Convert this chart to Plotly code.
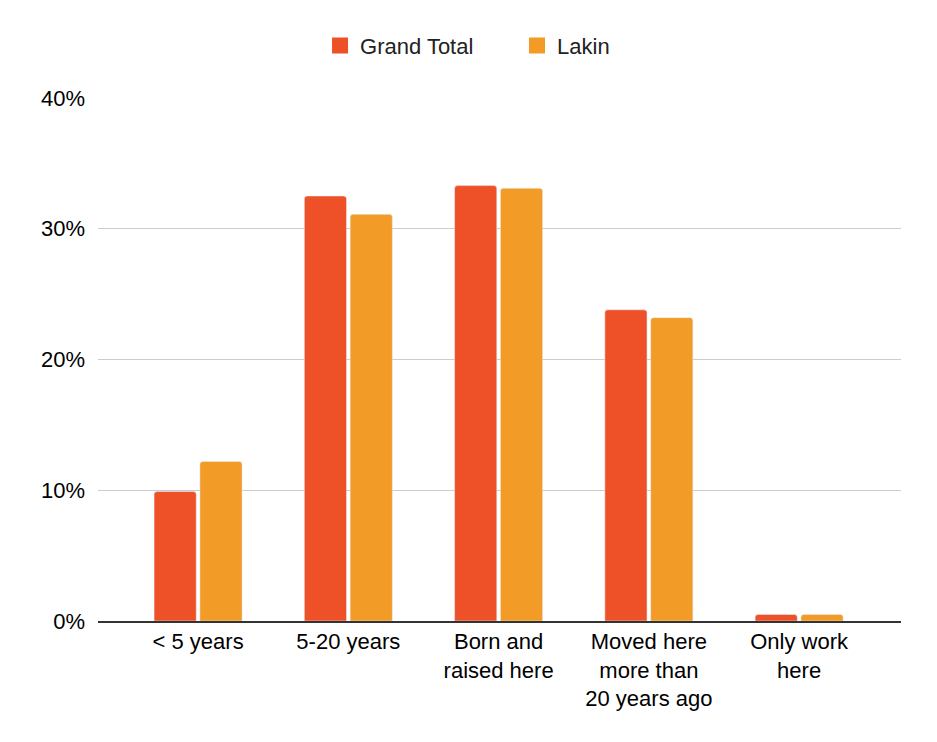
import plotly.graph_objects as go

categories = ["< 5 years", "5-20 years", "Born and<br>raised here",
              "Moved here<br>more than<br>20 years ago", "Only work<br>here"]
grand_total = [0.099, 0.325, 0.333, 0.238, 0.005]
lakin = [0.122, 0.311, 0.331, 0.232, 0.005]
y_ticks = [0, 0.1, 0.2, 0.3, 0.4]
y_tick_labels = ["0%", "10%", "20%", "30%", "40%"]
series_names = ["Grand Total", "Lakin"]
series_colors = ["#EE5127", "#F29B26"]

fig = go.Figure()
for name, vals, col in zip(series_names, [grand_total, lakin], series_colors):
    fig.add_trace(go.Bar(x=categories, y=vals, name=name, showlegend=False,
                         legendgroup=name,
                         marker=dict(color=col, cornerradius=3)))
# legend entries with larger square symbols
for name, col in zip(series_names, series_colors):
    fig.add_trace(go.Scatter(x=[None], y=[None], mode="markers", name=name,
                             legendgroup=name,
                             marker=dict(symbol="square", size=16, color=col)))

font = "Liberation Sans, Arial, sans-serif"
fig.update_layout(
    width=929, height=734,
    margin=dict(l=90, r=36, t=90, b=121, pad=0),
    paper_bgcolor="white", plot_bgcolor="white",
    barmode="group", bargap=0.39, bargroupgap=0.08,
    font=dict(family=font, size=22, color="#000000"),
    legend=dict(orientation="h", x=0.2765, xanchor="left", y=1.10, yanchor="middle",
                font=dict(size=22, color="#222222"), itemwidth=30,
                entrywidth=152, entrywidthmode="pixels",
                traceorder="normal"),
    showlegend=True,
)
fig.update_xaxes(
    range=[-0.666, 4.678], showgrid=False, showline=True, linecolor="#333333",
    linewidth=1.5, ticks="", tickfont=dict(size=22, color="#000000"),
)
fig.update_yaxes(
    range=[0, 0.4], tickvals=y_ticks, ticktext=y_tick_labels,
    showgrid=True, gridcolor="#CCCCCC", gridwidth=1.3, zeroline=False,
    tickfont=dict(size=22, color="#000000"), ticks="", ticklabelstandoff=12,
)
fig.write_html("out.html")
